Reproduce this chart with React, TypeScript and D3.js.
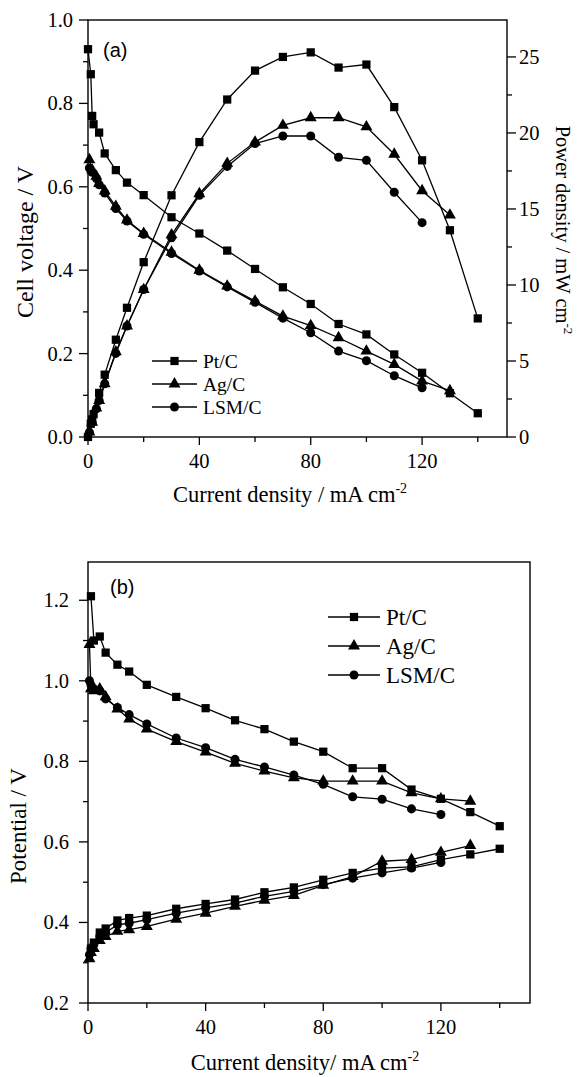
import React from "react";
import * as d3 from "d3";

// panel (a): polarisation + power curves
const ptCurrentA = [0, 1, 1.5, 2, 4, 6, 10, 14, 20, 30, 40, 50, 60, 70, 80, 90, 100, 110, 120, 130, 140];
const ptVoltage = [0.93, 0.87, 0.77, 0.75, 0.73, 0.68, 0.64, 0.61, 0.58, 0.527, 0.488, 0.447, 0.403, 0.359, 0.319, 0.271, 0.246, 0.198, 0.154, 0.105, 0.057];
const ptPower = [0, 0.87, 1.16, 1.5, 2.9, 4.1, 6.4, 8.5, 11.5, 15.9, 19.4, 22.2, 24.1, 25.0, 25.3, 24.3, 24.5, 21.7, 18.2, 13.6, 7.8];

const agCurrentA = [0.5, 1.5, 3, 4, 6, 10, 14, 20, 30, 40, 50, 60, 70, 80, 90, 100, 110, 120, 130];
const agVoltage = [0.665, 0.64, 0.625, 0.608, 0.59, 0.553, 0.52, 0.488, 0.443, 0.4, 0.362, 0.326, 0.29, 0.267, 0.238, 0.206, 0.174, 0.134, 0.111];
const agPower = [0.33, 0.96, 1.9, 2.4, 3.5, 5.6, 7.3, 9.7, 13.3, 16.0, 18.0, 19.4, 20.5, 21.0, 21.0, 20.4, 18.6, 16.2, 14.6];

const lsmCurrentA = [0.5, 1.5, 3, 4, 6, 10, 14, 20, 30, 40, 50, 60, 70, 80, 90, 100, 110, 120];
const lsmVoltage = [0.645, 0.635, 0.62, 0.605, 0.585, 0.548, 0.518, 0.486, 0.44, 0.398, 0.36, 0.323, 0.285, 0.25, 0.206, 0.183, 0.147, 0.118];
const lsmPower = [0.32, 0.95, 1.86, 2.4, 3.5, 5.5, 7.3, 9.7, 13.1, 15.9, 17.8, 19.3, 19.8, 19.8, 18.4, 18.2, 16.1, 14.1];

// panel (b): electrode potentials
const ptCurrentB = [1, 2, 4, 6, 10, 14, 20, 30, 40, 50, 60, 70, 80, 90, 100, 110, 120, 130, 140];
const ptCathode = [1.21, 1.1, 1.11, 1.07, 1.04, 1.023, 0.99, 0.96, 0.932, 0.902, 0.88, 0.849, 0.824, 0.783, 0.783, 0.73, 0.707, 0.674, 0.639];
const ptAnode = [0.335, 0.35, 0.375, 0.385, 0.405, 0.411, 0.417, 0.434, 0.446, 0.457, 0.475, 0.487, 0.506, 0.523, 0.535, 0.538, 0.556, 0.569, 0.583];

const agCurrentB = [0.5, 1, 2, 4, 6, 10, 14, 20, 30, 40, 50, 60, 70, 80, 90, 100, 110, 120, 130];
const agCathode = [1.09, 0.98, 0.975, 0.98, 0.96, 0.93, 0.905, 0.88, 0.849, 0.823, 0.795, 0.776, 0.759, 0.751, 0.751, 0.751, 0.722, 0.707, 0.701];
const agAnode = [0.31, 0.325, 0.335, 0.355, 0.365, 0.378, 0.382, 0.39, 0.408, 0.423, 0.44, 0.455, 0.467, 0.492, 0.514, 0.552, 0.556, 0.574, 0.591];

const lsmCurrentB = [0.5, 1, 2, 4, 6, 10, 14, 20, 30, 40, 50, 60, 70, 80, 90, 100, 110, 120];
const lsmCathode = [1.0, 0.99, 0.98, 0.975, 0.955, 0.934, 0.916, 0.893, 0.858, 0.834, 0.805, 0.786, 0.766, 0.743, 0.712, 0.706, 0.682, 0.668];
const lsmAnode = [0.32, 0.335, 0.345, 0.365, 0.375, 0.394, 0.398, 0.407, 0.423, 0.436, 0.448, 0.465, 0.477, 0.494, 0.51, 0.523, 0.535, 0.549];

const seriesNames = ["Pt/C", "Ag/C", "LSM/C"];
const xTicks = [0, 40, 80, 120];
const xMinor = [20, 60, 100, 140];
const voltTicks = [0, 0.2, 0.4, 0.6, 0.8, 1.0];
const powerTicks = [0, 5, 10, 15, 20, 25];
const potTicks = [0.2, 0.4, 0.6, 0.8, 1.0, 1.2];

const SERIF = "'Liberation Serif', 'Times New Roman', serif";
const SANS = "'Liberation Sans', Arial, sans-serif";
const shapes = [d3.symbolSquare, d3.symbolTriangle, d3.symbolCircle];
const symSizes = [68, 62, 64];

const zip = (xs: number[], ys: number[]) => xs.map((x, i) => [x, ys[i]] as [number, number]);

function Series({ pts, x, y, k }: any) {
  const line = d3.line<[number, number]>().x(d => x(d[0])).y(d => y(d[1]));
  const sym = d3.symbol(shapes[k], symSizes[k])();
  return (
    <g>
      <path d={line(pts) || ""} fill="none" stroke="#000" strokeWidth={1.3} />
      {pts.map((d: [number, number], i: number) => (
        <path key={i} d={sym || ""} transform={`translate(${x(d[0])},${y(d[1])})`} fill="#000" />
      ))}
    </g>
  );
}

function Legend({ x0, y0, dy, fs, len }: any) {
  return (
    <g>
      {seriesNames.map((n, k) => {
        const sym = d3.symbol(shapes[k], symSizes[k])();
        const yy = y0 + k * dy;
        return (
          <g key={n}>
            <line x1={x0} x2={x0 + len} y1={yy} y2={yy} stroke="#000" strokeWidth={1.3} />
            <path d={sym || ""} transform={`translate(${x0 + len / 2},${yy})`} />
            <text x={x0 + len + 6} y={yy + fs * 0.34} fontSize={fs} fontFamily={SERIF}>{n}</text>
          </g>
        );
      })}
    </g>
  );
}

export default function App() {
  // panel (a)
  const xa = d3.scaleLinear().domain([0, 150.5]).range([88, 507]);
  const ya = d3.scaleLinear().domain([0, 1]).range([437, 20]);
  const yp = d3.scaleLinear().domain([0, 27.43]).range([437, 20]);
  // panel (b)
  const xb = d3.scaleLinear().domain([0, 150.3]).range([88, 530]);
  const yb = d3.scaleLinear().domain([0.2, 1.295]).range([1003, 562]);

  const fs = 20.5;
  const aMinorV = d3.range(0.1, 1.0, 0.2);
  const aMinorP = d3.range(2.5, 27.5, 5);
  const bMinor = d3.range(0.3, 1.3, 0.2);

  return (
    <div style={{ position: "absolute", left: 0, top: 0 }}>
      <svg width={578} height={1077} style={{ display: "block", background: "#fff" }}>
        {/* ---------- panel (a) ---------- */}
        <rect x={88} y={20} width={419} height={417} fill="none" stroke="#000" strokeWidth={1.4} />
        {voltTicks.map(t => (
          <g key={"va" + t}>
            <line x1={79} x2={88} y1={ya(t)} y2={ya(t)} stroke="#000" strokeWidth={1.3} />
            <text x={73} y={ya(t) + 7} fontSize={fs} fontFamily={SERIF} textAnchor="end">{t.toFixed(1)}</text>
          </g>
        ))}
        {aMinorV.map(t => (
          <line key={"vm" + t} x1={83} x2={88} y1={ya(t)} y2={ya(t)} stroke="#000" strokeWidth={1.3} />
        ))}
        {powerTicks.map(t => (
          <g key={"pa" + t}>
            <line x1={507} x2={516} y1={yp(t)} y2={yp(t)} stroke="#000" strokeWidth={1.3} />
            <text x={519} y={yp(t) + 7} fontSize={fs} fontFamily={SERIF}>{t}</text>
          </g>
        ))}
        {aMinorP.map(t => (
          <line key={"pm" + t} x1={507} x2={512} y1={yp(t)} y2={yp(t)} stroke="#000" strokeWidth={1.3} />
        ))}
        {xTicks.map(t => (
          <g key={"xa" + t}>
            <line x1={xa(t)} x2={xa(t)} y1={437} y2={445} stroke="#000" strokeWidth={1.3} />
            <text x={xa(t)} y={468} fontSize={fs} fontFamily={SERIF} textAnchor="middle">{t}</text>
          </g>
        ))}
        {xMinor.map(t => (
          <line key={"xam" + t} x1={xa(t)} x2={xa(t)} y1={437} y2={442} stroke="#000" strokeWidth={1.3} />
        ))}
        <text x={290} y={502} fontSize={22.5} fontFamily={SERIF} textAnchor="middle">
          Current density / mA cm<tspan dy={-9} fontSize={14}>-2</tspan>
        </text>
        <text transform="translate(33,242) rotate(-90)" fontSize={24} fontFamily={SERIF} textAnchor="middle">
          Cell voltage / V
        </text>
        <text transform="translate(556,230) rotate(90)" fontSize={20.5} fontFamily={SERIF} textAnchor="middle">
          Power density / mW cm<tspan dy={-8} fontSize={13}>-2</tspan>
        </text>
        <text x={103} y={57} fontSize={20} fontFamily={SANS}>(a)</text>

        <Series pts={zip(ptCurrentA, ptVoltage)} x={xa} y={ya} k={0} />
        <Series pts={zip(agCurrentA, agVoltage)} x={xa} y={ya} k={1} />
        <Series pts={zip(lsmCurrentA, lsmVoltage)} x={xa} y={ya} k={2} />
        <Series pts={zip(ptCurrentA, ptPower)} x={xa} y={yp} k={0} />
        <Series pts={zip(agCurrentA, agPower)} x={xa} y={yp} k={1} />
        <Series pts={zip(lsmCurrentA, lsmPower)} x={xa} y={yp} k={2} />
        <Legend x0={152} y0={361} dy={23} fs={19.5} len={45} />

        {/* ---------- panel (b) ---------- */}
        <rect x={88} y={562} width={442} height={441} fill="none" stroke="#000" strokeWidth={1.4} />
        {potTicks.map(t => (
          <g key={"pb" + t}>
            <line x1={79} x2={88} y1={yb(t)} y2={yb(t)} stroke="#000" strokeWidth={1.3} />
            <text x={69} y={yb(t) + 7} fontSize={fs} fontFamily={SERIF} textAnchor="end">{t.toFixed(1)}</text>
          </g>
        ))}
        {bMinor.map(t => (
          <line key={"bm" + t} x1={83} x2={88} y1={yb(t)} y2={yb(t)} stroke="#000" strokeWidth={1.3} />
        ))}
        {xTicks.map(t => (
          <g key={"xb" + t}>
            <line x1={xb(t)} x2={xb(t)} y1={1003} y2={1011} stroke="#000" strokeWidth={1.3} />
            <text x={xb(t)} y={1034} fontSize={fs} fontFamily={SERIF} textAnchor="middle">{t}</text>
          </g>
        ))}
        {xMinor.map(t => (
          <line key={"xbm" + t} x1={xb(t)} x2={xb(t)} y1={1003} y2={1008} stroke="#000" strokeWidth={1.3} />
        ))}
        <text x={305} y={1070} fontSize={22.5} fontFamily={SERIF} textAnchor="middle">
          Current density/ mA cm<tspan dy={-9} fontSize={14}>-2</tspan>
        </text>
        <text transform="translate(26,826) rotate(-90)" fontSize={23} fontFamily={SERIF} textAnchor="middle">
          Potential / V
        </text>
        <text x={110} y={594} fontSize={20} fontFamily={SANS}>(b)</text>

        <Series pts={zip(ptCurrentB, ptCathode)} x={xb} y={yb} k={0} />
        <Series pts={zip(agCurrentB, agCathode)} x={xb} y={yb} k={1} />
        <Series pts={zip(lsmCurrentB, lsmCathode)} x={xb} y={yb} k={2} />
        <Series pts={zip(ptCurrentB, ptAnode)} x={xb} y={yb} k={0} />
        <Series pts={zip(agCurrentB, agAnode)} x={xb} y={yb} k={1} />
        <Series pts={zip(lsmCurrentB, lsmAnode)} x={xb} y={yb} k={2} />
        <Legend x0={328} y0={617} dy={29} fs={23} len={52} />
      </svg>
    </div>
  );
}
